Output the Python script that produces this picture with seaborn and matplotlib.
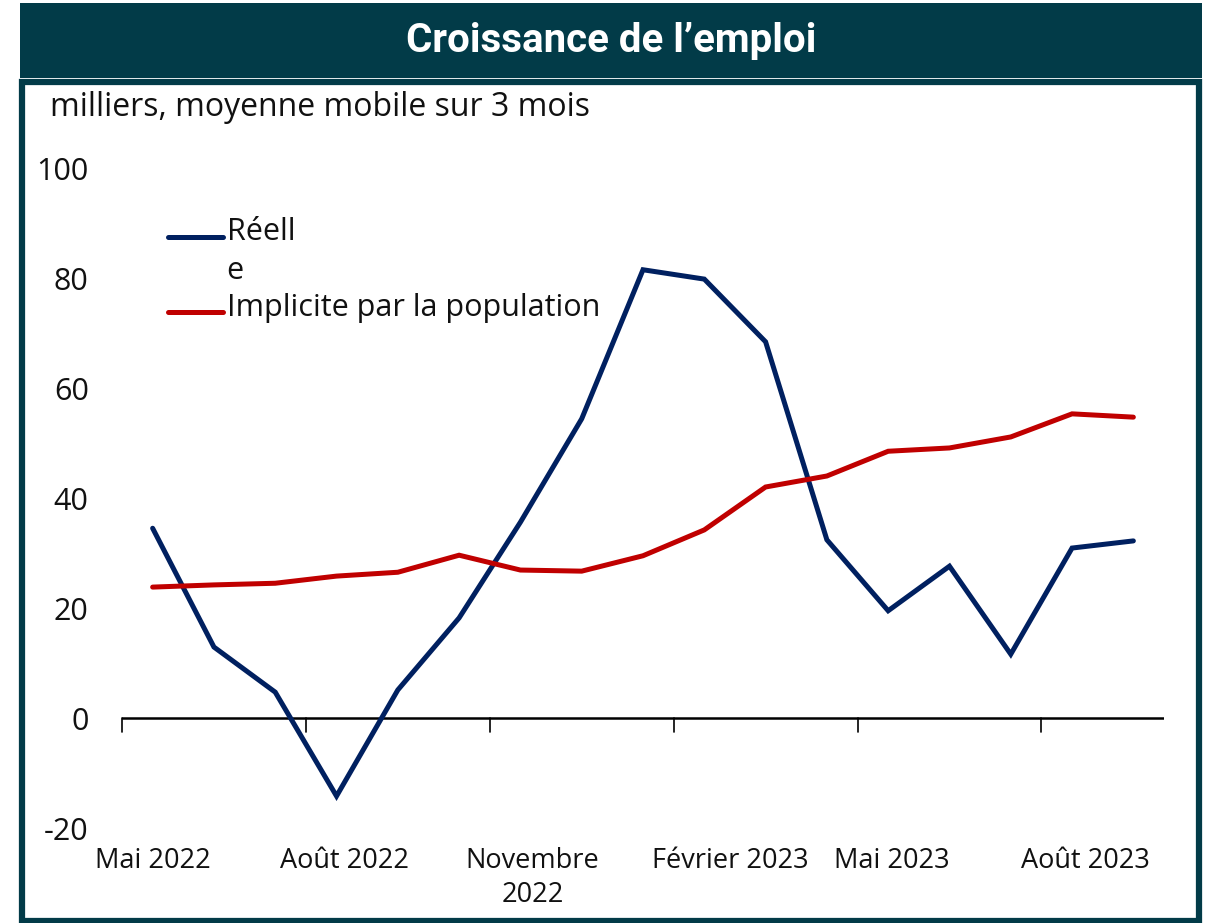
import matplotlib
matplotlib.use("Agg")
import matplotlib.pyplot as plt
import seaborn as sns
import pandas as pd
import numpy as np
from matplotlib.patches import Rectangle

months = ["Mai 2022", "Juin 2022", "Juil 2022", "Août 2022", "Sept 2022", "Oct 2022",
          "Novembre 2022", "Déc 2022", "Janv 2023", "Février 2023", "Mars 2023", "Avr 2023",
          "Mai 2023", "Juin 2023", "Juil 2023", "Août 2023", "Sept 2023"]
reelle = [34.5, 12.9, 4.7, -14.2, 5.1, 18.2, 35.6, 54.4, 81.5, 79.8, 68.4, 32.4,
          19.5, 27.6, 11.6, 30.9, 32.2]
implicite = [23.8, 24.2, 24.5, 25.8, 26.5, 29.6, 26.9, 26.7, 29.5, 34.2, 42.0, 44.0,
             48.5, 49.1, 51.1, 55.3, 54.7]
series_names = ["Réell\ne", "Implicite par la population"]
tick_labels = ["Mai 2022", "Août 2022", "Novembre\n2022", "Février 2023", "Mai 2023", "Août 2023"]
yticks = [-20, 0, 20, 40, 60, 80, 100]

sns.set_theme(style="white")
plt.rcParams["font.family"] = ["Open Sans", "DejaVu Sans"]

df = pd.DataFrame({
    "idx": list(range(len(months))) * 2,
    "value": reelle + implicite,
    "serie": [series_names[0]] * len(months) + [series_names[1]] * len(months),
})

W, H = 1209, 923
fig = plt.figure(figsize=(W / 100, H / 100), dpi=100)
fig.patch.set_facecolor("white")

teal = "#023B48"
# title bar
fig.add_artist(Rectangle((20 / W, 1 - 78 / H), 1182 / W, 75 / H, transform=fig.transFigure,
                         facecolor=teal, edgecolor="none", zorder=0))
# frame
fig.add_artist(Rectangle((22 / W, 2 / H), 1177 / W, (H - 81 - 3) / H, transform=fig.transFigure,
                         facecolor="none", edgecolor=teal, linewidth=4.5, zorder=0))
fig.text(611 / W, 1 - 41 / H, "Croissance de l\u2019emploi", color="white", fontsize=29,
         fontweight="bold", family=["Roboto", "DejaVu Sans"], ha="center", va="center")
fig.text(50 / W, 1 - 108 / H, "milliers, moyenne mobile sur 3 mois", color="#111111",
         fontsize=23, ha="left", va="center")

ax = fig.add_axes([122 / W, 1 - 828 / H, 1042 / W, 660 / H])
sns.lineplot(data=df, x="idx", y="value", hue="serie",
             palette={series_names[0]: "#002060", series_names[1]: "#C00000"},
             linewidth=3.6, ax=ax, legend=True, sort=False)
for ln in ax.get_lines():
    ln.set_solid_capstyle("round")
    ln.set_solid_joinstyle("miter")

ax.set_xlim(-0.5, len(months) - 0.5)
ax.set_ylim(-20, 100)
ax.set_xlabel("")
ax.set_ylabel("")
for s in ["top", "right", "left", "bottom"]:
    ax.spines[s].set_visible(False)
ax.axhline(0, color="black", linewidth=1.8, zorder=1)

ax.set_yticks(yticks)
ax.set_yticklabels([str(v) for v in yticks])
ax.tick_params(axis="y", length=0, pad=24, labelsize=22, labelcolor="#111111")

# tick marks at group boundaries (on zero line), labels at group months
bounds = np.arange(-0.5, len(months) - 1, 3)
for b in bounds:
    ax.plot([b, b], [0, -2.5], color="black", linewidth=1.2, clip_on=False, zorder=1)
label_pos = [0, 3.13, 6.2, 9.42, 12.06, 15.22]
ax.set_xticks(label_pos)
ax.set_xticklabels(tick_labels)
ax.tick_params(axis="x", length=0, pad=14, labelsize=19.5, labelcolor="#111111")
for t in ax.get_xticklabels():
    t.set_multialignment("center")
    t.set_linespacing(1.25)

leg = ax.legend(loc="upper left", bbox_to_anchor=(0.044, 0.925), frameon=False,
                fontsize=22, handlelength=1.8, handletextpad=0.12, labelspacing=0.22,
                borderaxespad=0, borderpad=0)
for t in leg.get_texts():
    t.set_linespacing(1.38)
    t.set_color("#111111")
lines = leg.get_lines()
for h in lines:
    h.set_linewidth(3.6)
    h.set_solid_capstyle("round")
# align the first handle with the first line of its two-line label
y0 = np.asarray(lines[0].get_ydata(), dtype=float)
lines[0].set_ydata(y0 + 11.5)
y1 = np.asarray(lines[1].get_ydata(), dtype=float)
lines[1].set_ydata(y1 - 5)

fig.savefig("out.png", dpi=100, facecolor="white")
